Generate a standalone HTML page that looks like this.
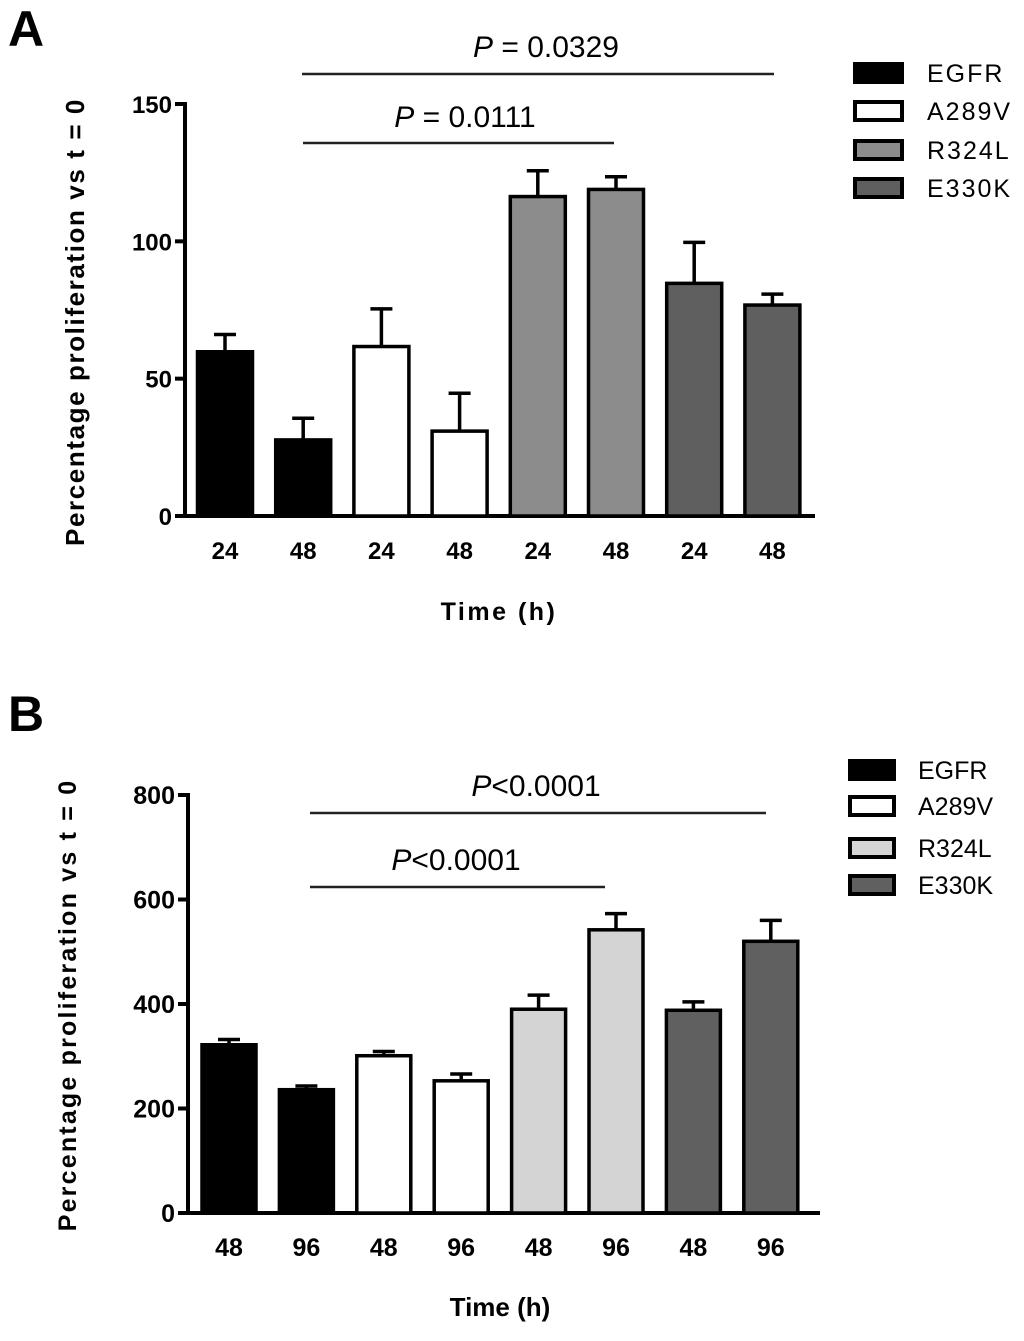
<!DOCTYPE html>
<html><head><meta charset="utf-8"><style>
body{margin:0;background:#fff;}
svg text{font-family:"Liberation Sans",Arial,sans-serif;}
</style></head><body>
<svg id="chart" width="1024" height="1336" viewBox="0 0 1024 1336" xmlns="http://www.w3.org/2000/svg"></svg>
<script>
// Panel A data
const catsA = ["24","48","24","48","24","48","24","48"];
const valsA = [59.8,27.7,61.7,30.9,116.3,118.9,84.7,76.8];
const errA = [66.1,35.6,75.4,44.7,125.7,123.5,99.6,80.8];
const ticksA = [0,50,100,150];
// Panel B data
const catsB = ["48","96","48","96","48","96","48","96"];
const valsB = [322,236,301,253,390,542,388,520];
const errB = [332,243,309,266,417,573,404,560];
const ticksB = [0,200,400,600,800];
const groups = ["EGFR","A289V","R324L","E330K"];
const colorsA = ["#000000","#ffffff","#8c8c8c","#5f5f5f"];
const colorsB = ["#000000","#ffffff","#d4d4d4","#606060"];

const NS="http://www.w3.org/2000/svg";
const svg=document.getElementById('chart');
function mk(tag,attrs,parent){const e=document.createElementNS(NS,tag);for(const k in attrs)e.setAttribute(k,attrs[k]);(parent||svg).appendChild(e);return e;}

function panel(o){
  const g=mk('g',{});
  
  
  const y=v=>o.y0-(v/o.max)*(o.y0-o.yTop);
  const x=i=>o.x0+i*o.step;
  const ya=mk('line',{x1:o.ax,y1:o.yTop-2,x2:o.ax,y2:o.y0+2,stroke:'#000','stroke-width':4},g);
  
  
  const xa=mk('line',{x1:o.ax-2,y1:o.y0,x2:o.axEnd,y2:o.y0,stroke:'#000','stroke-width':4},g);
  
  
  o.ticks.forEach(t=>{
    mk('line',{x1:o.ax-10,y1:y(t),x2:o.ax,y2:y(t),stroke:'#000','stroke-width':4},g);
    const tl=mk('text',{x:o.ax-13,y:y(t)+9,'text-anchor':'end','font-size':o.tfs,'font-weight':'bold'},g);
    tl.textContent=t;
    
    
  });
  o.vals.forEach((v,i)=>{
    const c=o.colors[Math.floor(i/2)];
    const cx=x(i);
    const eb=mk('line',{x1:cx,y1:y(v),x2:cx,y2:y(o.err[i]),stroke:'#000','stroke-width':3.5},g);
    
    
    mk('line',{x1:cx-11,y1:y(o.err[i]),x2:cx+11,y2:y(o.err[i]),stroke:'#000','stroke-width':3.5},g);
    const r=mk('rect',{x:cx-o.bw/2,y:y(v),width:o.bw,height:o.y0-y(v),fill:c,stroke:'#000','stroke-width':3.5},g);
    
    
    const xl=mk('text',{x:cx,y:o.xly,'text-anchor':'middle','font-size':o.tfs,'font-weight':'bold'},g);
    xl.textContent=o.cats[i];
    
    
  });
  o.sig.forEach(s=>{
    const l=mk('line',{x1:s.x1,y1:s.y,x2:s.x2,y2:s.y,stroke:'#222','stroke-width':2.5},g);
    
    
    const t=mk('text',{x:s.tx,y:s.ty,'text-anchor':'middle','font-size':30},g);
    t.innerHTML='<tspan font-style="italic">P</tspan>'+s.label;
    
    
  });
  const yt=mk('text',{x:0,y:0,'text-anchor':'middle','font-size':o.ytfs,'font-weight':'bold','letter-spacing':o.yls,transform:`translate(${o.ytx},${o.yty}) rotate(-90)`},g);
  yt.textContent='Percentage proliferation vs t = 0';
  
  
  const xt=mk('text',{x:o.xtx,y:o.xty,'text-anchor':'middle','font-size':o.xtfs,'font-weight':'bold','letter-spacing':o.xls},g);
  xt.textContent='Time (h)';
  
  
  const pl=mk('text',{x:8,y:o.letterY,'font-size':50,'font-weight':'bold'},g);
  pl.textContent=o.letter;
  
  
  o.groups.forEach((gname,i)=>{
    const ly=o.legY[i];
    const b=mk('rect',{x:o.legX,y:ly-9,width:o.legW,height:18,fill:o.colors[i],stroke:'#000','stroke-width':4},g);
    
    
    const t=mk('text',{x:o.legTx,y:ly+9,'font-size':25,'letter-spacing':o.legls},g);
    t.textContent=gname;
    
    
  });
}
panel({name:'panel-a',letter:'A',letterY:46,cats:catsA,vals:valsA,err:errA,ticks:ticksA,max:150,
  ax:185,axEnd:815,y0:516,yTop:104,x0:225,step:78.2,bw:55,colors:colorsA,groups:groups,
  tfs:24,xly:559,ytfs:26,yls:1.6,ytx:84,yty:322,xtx:499,xty:620,xtfs:25,xls:2.5,
  sig:[{x1:302,x2:774,y:74,tx:546,ty:57,label:' = 0.0329'},{x1:303,x2:614,y:143,tx:465,ty:127,label:' = 0.0111'}],
  legX:855,legW:47,legTx:927,legY:[73,111,150,188],legls:2});
panel({name:'panel-b',letter:'B',letterY:731,cats:catsB,vals:valsB,err:errB,ticks:ticksB,max:800,
  ax:188,axEnd:820,y0:1213,yTop:795,x0:229,step:77.4,bw:54,colors:colorsB,groups:groups,
  tfs:25,xly:1256,ytfs:25,yls:2.2,ytx:76,yty:1005,xtx:500,xty:1316,xtfs:26,xls:0,
  sig:[{x1:310,x2:766,y:813,tx:536,ty:796,label:'&lt;0.0001'},{x1:310,x2:605,y:887,tx:456,ty:870,label:'&lt;0.0001'}],
  legX:850,legW:44,legTx:918,legY:[770,806,848,885],legls:0});
</script>
</body></html>
